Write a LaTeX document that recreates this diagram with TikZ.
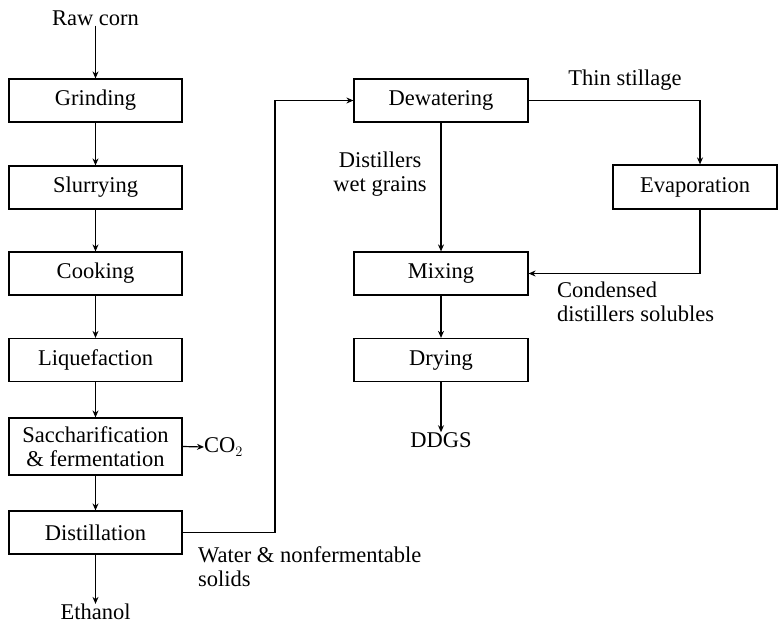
\documentclass[tikz,border=0pt]{standalone}
\usepackage{fontspec}
\setmainfont{Liberation Serif}
\usepackage{tikz}
\usetikzlibrary{arrows.meta,calc}
\tikzset{
  stepbox/.style={draw, line width=1.2pt, minimum width=173pt, minimum height=43pt, inner sep=2pt, align=center},
  label/.style={inner sep=0pt, align=center},
  flow/.style={-{Stealth[length=7pt,width=6pt]}, line width=1.2pt},
  pipe/.style={line width=1.2pt}
}
\begin{document}
\begin{tikzpicture}[x=1pt, y=-1pt, font=\fontsize{22.5}{24}\selectfont]
  \useasboundingbox (0,0) rectangle (778,623);
  % left column: corn to ethanol
  \node[label] (raw) at (95.5,18) {Raw corn};
  \node[stepbox] (grind) at (95.5,100.5) {Grinding};
  \node[stepbox] (slurry) at (95.5,187.5) {Slurrying};
  \node[stepbox] (cook) at (95.5,273.5) {Cooking};
  \node[stepbox] (liquef) at (95.5,360) {Liquefaction};
  \node[stepbox, minimum height=57pt] (sacch) at (95.5,446.5) {Saccharification\\\& fermentation};
  \node[stepbox] (distill) at (95.5,532.5) {Distillation};
  \node[label] (ethanol) at (95.5,612) {Ethanol};
  \node[label, anchor=west] (co2) at (204,447) {CO$_2$};
  \draw[flow] (raw) -- (grind);
  \draw[flow] (grind) -- (slurry);
  \draw[flow] (slurry) -- (cook);
  \draw[flow] (cook) -- (liquef);
  \draw[flow] (liquef) -- (sacch);
  \draw[flow] (sacch) -- (distill);
  \draw[flow] (distill) -- (ethanol);
  \draw[flow] (sacch.east) -- (co2.west);
  % right part: stillage handling
  \node[stepbox, minimum width=174pt] (dewater) at (441,100.5) {Dewatering};
  \node[stepbox, minimum width=164pt, minimum height=44pt] (evap) at (695,187) {Evaporation};
  \node[stepbox, minimum width=174pt] (mixing) at (441,273.5) {Mixing};
  \node[stepbox, minimum width=174pt] (drying) at (441,360) {Drying};
  \node[label] (ddgs) at (441,440) {DDGS};
  \coordinate (bendA) at (275,532.5);
  \draw[flow] (distill.east) -- (bendA) |- (dewater.west);
  \draw[flow] (dewater.east) -| ([xshift=5pt]evap.north);
  \draw[flow] (dewater) -- (mixing);
  \draw[flow] ([xshift=5pt]evap.south) |- (mixing.east);
  \draw[flow] (mixing) -- (drying);
  \draw[flow] (drying) -- (ddgs);
  % stream labels
  \node[label] (thin) at (625,80) {Thin stillage};
  \node[label] (dwg) at (380,174) {Distillers\\wet grains};
  \node[label, anchor=north west, align=left] (cds) at (557,282) {Condensed\\distillers solubles};
  \node[label, anchor=north west, align=left] (water) at (198,546) {Water \& nonfermentable\\solids};
\end{tikzpicture}
\end{document}
